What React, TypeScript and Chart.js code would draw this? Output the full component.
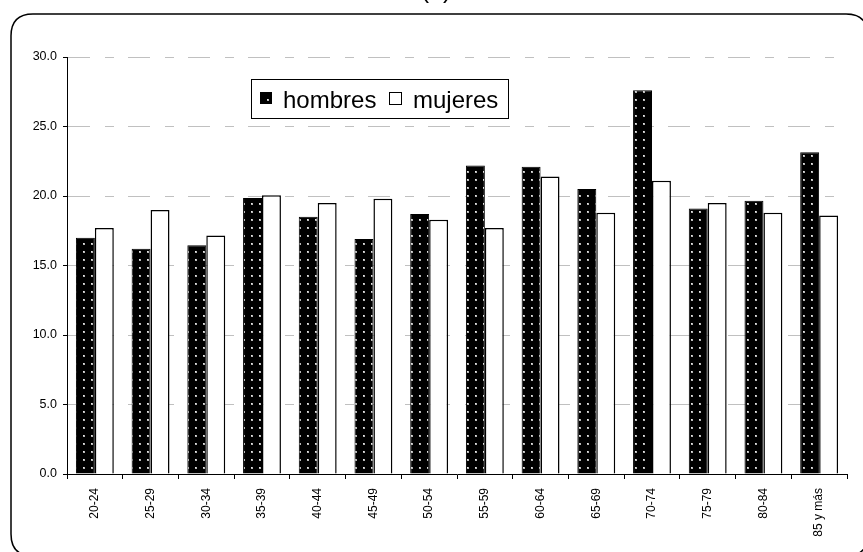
import React, { useEffect, useRef } from "react";
import { Chart, registerables } from "chart.js";

Chart.register(...registerables);

const categories = [
  "20-24", "25-29", "30-34", "35-39", "40-44", "45-49", "50-54",
  "55-59", "60-64", "65-69", "70-74", "75-79", "80-84", "85 y más",
];
const hombres = [17.0, 16.2, 16.45, 19.85, 18.5, 16.9, 18.7, 22.2, 22.1, 20.5, 27.6, 19.1, 19.65, 23.15];
const mujeres = [17.7, 19.0, 17.15, 20.05, 19.5, 19.8, 18.3, 17.7, 21.4, 18.8, 21.1, 19.5, 18.8, 18.6];
const seriesNames = ["hombres", "mujeres"];
const titleText = "(b)";
const yMin = 0;
const yMax = 30;
const yStep = 5;

const FONT = "'Liberation Sans', Arial, sans-serif";

function makePattern(): CanvasPattern | string {
  const c = document.createElement("canvas");
  c.width = 8;
  c.height = 8;
  const g = c.getContext("2d");
  if (!g) return "#000";
  g.fillStyle = "#000";
  g.fillRect(0, 0, 8, 8);
  g.fillStyle = "#b8b8b8";
  g.fillRect(3, 3, 2, 2);
  g.fillStyle = "#e8e8e8";
  g.fillRect(3, 3, 1, 1);
  const p = g.createPattern(c, "repeat");
  return p || "#000";
}

export default function App() {
  const ref = useRef<HTMLCanvasElement | null>(null);

  useEffect(() => {
    const canvas = ref.current;
    if (!canvas) return;
    const pattern = makePattern();

    const framePlugin = {
      id: "frame",
      beforeDraw(chart: any) {
        const ctx = chart.ctx;
        ctx.save();
        ctx.fillStyle = "#fff";
        ctx.fillRect(0, 0, chart.width, chart.height);
        // rounded frame
        const x = 11, y = 14, w = 857, h = 542, r = 22;
        ctx.beginPath();
        ctx.moveTo(x + r, y);
        ctx.lineTo(x + w - r, y);
        ctx.quadraticCurveTo(x + w, y, x + w, y + r);
        ctx.lineTo(x + w, y + h - r);
        ctx.quadraticCurveTo(x + w, y + h, x + w - r, y + h);
        ctx.lineTo(x + r, y + h);
        ctx.quadraticCurveTo(x, y + h, x, y + h - r);
        ctx.lineTo(x, y + r);
        ctx.quadraticCurveTo(x, y, x + r, y);
        ctx.closePath();
        ctx.lineWidth = 1.5;
        ctx.strokeStyle = "#000";
        ctx.stroke();
        // title (mostly cut off at top)
        ctx.fillStyle = "#000";
        ctx.font = `25px ${FONT}`;
        ctx.textAlign = "center";
        ctx.textBaseline = "alphabetic";
        ctx.fillText(titleText, 436, -2);
        ctx.restore();
      },
      afterDraw(chart: any) {
        const ctx = chart.ctx;
        const a = chart.chartArea;
        const lx = a.left + 184;
        const ly = a.top + 22;
        ctx.save();
        ctx.fillStyle = "#fff";
        ctx.fillRect(lx, ly, 257, 39);
        ctx.lineWidth = 1;
        ctx.strokeStyle = "#000";
        ctx.strokeRect(lx + 0.5, ly + 0.5, 257, 39);
        // hombres
        ctx.fillStyle = pattern as any;
        ctx.fillRect(lx + 9, ly + 13, 12, 12);
        ctx.strokeRect(lx + 9.5, ly + 13.5, 11, 11);
        ctx.fillStyle = "#000";
        ctx.font = `24px ${FONT}`;
        ctx.textAlign = "left";
        ctx.textBaseline = "alphabetic";
        ctx.fillText(seriesNames[0], lx + 32, ly + 29);
        // mujeres
        ctx.fillStyle = "#fff";
        ctx.fillRect(lx + 138, ly + 13, 12, 12);
        ctx.strokeRect(lx + 138.5, ly + 13.5, 12, 12);
        ctx.fillStyle = "#000";
        ctx.fillText(seriesNames[1], lx + 162, ly + 29);
        ctx.restore();
      },
    };

    const chart = new Chart(canvas, {
      type: "bar",
      data: {
        labels: categories,
        datasets: [
          {
            label: seriesNames[0],
            data: hombres,
            backgroundColor: pattern as any,
            borderColor: "#000",
            borderWidth: 1,
            categoryPercentage: 0.68,
            barPercentage: 1.0,
          },
          {
            label: seriesNames[1],
            data: mujeres,
            backgroundColor: "#fff",
            borderColor: "#000",
            borderWidth: 1.5,
            categoryPercentage: 0.68,
            barPercentage: 1.0,
          },
        ],
      },
      options: {
        responsive: false,
        animation: false,
        layout: { padding: { top: 57, right: 16, left: 0, bottom: 0 } },
        plugins: {
          legend: { display: false },
          tooltip: { enabled: false },
          title: { display: false },
        },
        scales: {
          x: {
            grid: {
              display: true,
              drawOnChartArea: false,
              drawTicks: true,
              tickLength: 5,
              tickColor: "#000",
              offset: true,
            },
            border: { display: true, color: "#000", width: 1 },
            ticks: {
              color: "#000",
              font: { family: FONT, size: 12 },
              minRotation: 90,
              maxRotation: 90,
              padding: 9,
              autoSkip: false,
            },
            afterFit(scale: any) {
              scale.height = 78;
            },
          },
          y: {
            min: yMin,
            max: yMax,
            grid: {
              color: "#c0c0c0",
              lineWidth: 1,
              drawTicks: true,
              tickLength: 4,
              tickColor: "#000",
              tickBorderDash: [],
            },
            border: { display: true, color: "#000", width: 1, dash: [22, 15, 9, 14] },
            ticks: {
              stepSize: yStep,
              color: "#000",
              font: { family: FONT, size: 12.5 },
              padding: 6,
              callback: (v: any) => Number(v).toFixed(1),
            },
            afterFit(scale: any) {
              scale.width = 67;
            },
          },
        },
      },
      plugins: [framePlugin],
    });
    return () => chart.destroy();
  }, []);

  return (
    <div style={{ position: "fixed", top: 0, left: 0, width: 863, height: 552, overflow: "hidden" }}>
      <canvas ref={ref} width={863} height={552} style={{ width: 863, height: 552, display: "block" }} />
    </div>
  );
}
